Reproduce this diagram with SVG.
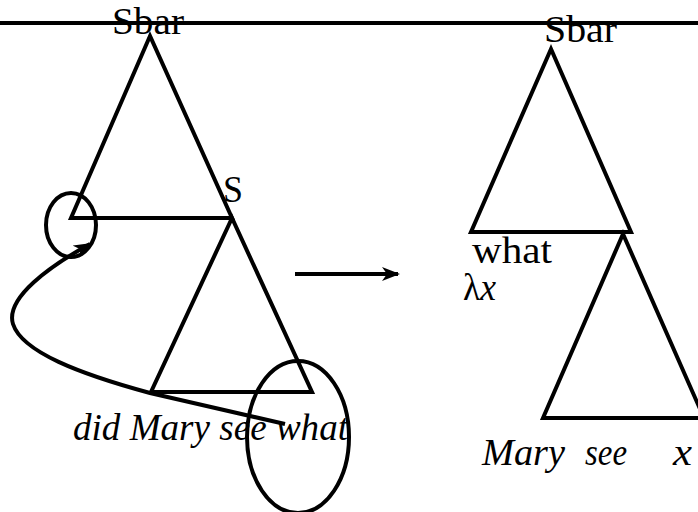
<svg xmlns="http://www.w3.org/2000/svg" width="698" height="512" viewBox="0 0 698 512">
<style>
.ln{fill:none;stroke:#000;stroke-width:4;stroke-linejoin:miter}
.t{font-family:"Liberation Serif","DejaVu Serif",serif;font-size:37px;fill:#000}
.i{font-style:italic}
</style>
<defs>
<marker id="ah" viewBox="0 0 18 14" refX="16" refY="7" markerWidth="18" markerHeight="14" markerUnits="userSpaceOnUse" orient="auto">
<path d="M0,0 L18,7 L0,14 L5,7 Z" fill="#000"/>
</marker>
</defs>
<rect width="698" height="512" fill="#fff"/>
<line x1="0" y1="23" x2="698" y2="23" stroke="#000" stroke-width="4"/>
<g id="left-sbar">
<polygon class="ln" points="150,36 71,218 232,218"/>
<text class="t" x="112" y="34" textLength="72" lengthAdjust="spacingAndGlyphs">Sbar</text>
</g>
<g id="left-s">
<polygon class="ln" points="232,218 151,392 312,392"/>
<text class="t" x="223" y="202" textLength="20" lengthAdjust="spacingAndGlyphs">S</text>
<text class="t i" x="73" y="440" textLength="275" lengthAdjust="spacingAndGlyphs">did Mary see what</text>
</g>
<g id="small-circle">
<ellipse class="ln" cx="71" cy="225" rx="25" ry="32"/>
</g>
<g id="big-circle">
<ellipse class="ln" cx="298" cy="437" rx="51" ry="76"/>
</g>
<g id="right-sbar">
<polygon class="ln" points="551,49 471,232 631,232"/>
<text class="t" x="544" y="42" textLength="73" lengthAdjust="spacingAndGlyphs">Sbar</text>
<text class="t" x="472" y="263" textLength="80" lengthAdjust="spacingAndGlyphs">what</text>
<text class="t" x="463" y="300" textLength="33" lengthAdjust="spacingAndGlyphs">λ<tspan class="i">x</tspan></text>
</g>
<g id="right-s">
<polygon class="ln" points="623,234 543,418 704,418"/>
<text class="t i" x="482" y="465" textLength="83" lengthAdjust="spacingAndGlyphs">Mary</text>
<text class="t i" x="585" y="465" textLength="42" lengthAdjust="spacingAndGlyphs">see</text>
<text class="t i" x="673" y="465" textLength="19" lengthAdjust="spacingAndGlyphs">x</text>
</g>
<g id="connectors">
<line x1="295" y1="274" x2="398" y2="274" stroke="#000" stroke-width="4" marker-end="url(#ah)"/>
<path class="ln" stroke-width="3.5" d="M285,424 L150,393 C80,374 22,352 13,324 C5,298 50,266 90,244" marker-end="url(#ah)"/>
</g>
</svg>
